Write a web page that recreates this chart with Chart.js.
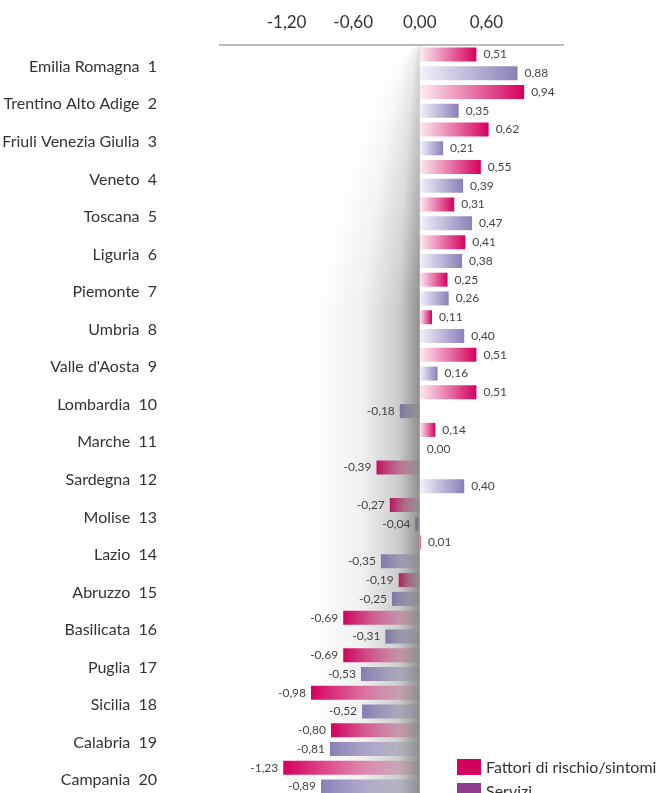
<!DOCTYPE html>
<html>
<head>
<meta charset="utf-8">
<script src="https://cdn.jsdelivr.net/npm/chart.js@4"></script>
<style>
html, body { margin: 0; padding: 0; background: #fff; overflow: hidden; }
#wrap { position: relative; width: 662px; height: 793px; }
.leg { position: absolute; left: 457px; font: 16px Lato, sans-serif; color: #333; display: flex; align-items: center; white-space: nowrap; }
.leg span { display: inline-block; width: 24px; height: 16px; margin-right: 5px; }
</style>
</head>
<body>
<div id="wrap">
  <canvas id="chart" width="662" height="796"></canvas>
  <div class="leg" style="top:757px"><span style="background:#d4005e"></span>Fattori di rischio/sintomi</div>
  <div class="leg" style="top:781px"><span style="background:#8e3d8e"></span>Servizi</div>
</div>
<script>
var regions = ['Emilia Romagna', 'Trentino Alto Adige', 'Friuli Venezia Giulia', 'Veneto', 'Toscana',
  'Liguria', 'Piemonte', 'Umbria', "Valle d'Aosta", 'Lombardia', 'Marche', 'Sardegna', 'Molise',
  'Lazio', 'Abruzzo', 'Basilicata', 'Puglia', 'Sicilia', 'Calabria', 'Campania'];
var fattori = [0.51, 0.94, 0.62, 0.55, 0.31, 0.41, 0.25, 0.11, 0.51, 0.51,
  0.14, -0.39, -0.27, 0.01, -0.19, -0.69, -0.69, -0.98, -0.80, -1.23];
var servizi = [0.88, 0.35, 0.21, 0.39, 0.47, 0.38, 0.26, 0.40, 0.16, -0.18,
  0.00, 0.40, -0.04, -0.35, -0.25, -0.31, -0.53, -0.52, -0.81, -0.89];
var tickValues = [-1.2, -0.6, 0, 0.6];

var labels = regions.map(function (r, i) { return r + '  ' + (i + 1); });

function fmt(v) {
  return v.toFixed(2).replace('.', ',');
}

// gradient per bar: light at zero, full colour at the end of the bar
function barGradient(light, dark) {
  return function (c) {
    var chart = c.chart;
    var x = chart.scales.x;
    if (!x || c.raw === undefined) return dark;
    var x0 = x.getPixelForValue(0);
    var x1 = x.getPixelForValue(c.raw);
    if (!isFinite(x0) || !isFinite(x1) || Math.abs(x1 - x0) < 0.5) return dark;
    var g = chart.ctx.createLinearGradient(x0, 0, x1, 0);
    g.addColorStop(0, light);
    g.addColorStop(1, dark);
    return g;
  };
}

var shadowAndLabels = {
  id: 'shadowAndLabels',
  afterDatasetsDraw: function (chart) {
    var ctx = chart.ctx;
    var area = chart.chartArea;
    var zero = chart.scales.x.getPixelForValue(0);
    ctx.save();
    // soft fold shadow left of the zero line
    for (var y = area.top + 1; y < area.bottom; y += 2) {
      var t = Math.min(1, (y - area.top) / 260);
      var w = 105 * Math.sqrt(t);
      if (w < 1) continue;
      var a = 0.68 * (0.35 + 0.65 * t);
      var g = ctx.createLinearGradient(zero - w, 0, zero, 0);
      g.addColorStop(0, 'rgba(90,90,90,0)');
      g.addColorStop(0.45, 'rgba(90,90,90,' + (a * 0.13) + ')');
      g.addColorStop(0.8, 'rgba(90,90,90,' + (a * 0.45) + ')');
      g.addColorStop(1, 'rgba(90,90,90,' + a + ')');
      ctx.fillStyle = g;
      ctx.fillRect(zero - w, y, w, 2);
    }
    // value labels
    ctx.font = '12px Lato, sans-serif';
    ctx.fillStyle = '#444';
    ctx.textBaseline = 'middle';
    chart.data.datasets.forEach(function (ds, i) {
      chart.getDatasetMeta(i).data.forEach(function (bar, j) {
        var v = ds.data[j];
        if (v < 0) {
          ctx.textAlign = 'right';
          ctx.fillText(fmt(v), bar.x - 5, bar.y);
        } else {
          ctx.textAlign = 'left';
          ctx.fillText(fmt(v), bar.x + 7, bar.y);
        }
      });
    });
    ctx.restore();
  }
};

var ctx = document.getElementById('chart').getContext('2d');
var myChart = new Chart(ctx, {
  type: 'bar',
  data: {
    labels: labels,
    datasets: [{
      label: 'Fattori di rischio/sintomi',
      data: fattori,
      backgroundColor: barGradient('#fcecf2', '#d4005e'),
      borderWidth: 0
    }, {
      label: 'Servizi',
      data: servizi,
      backgroundColor: barGradient('#f3f2fa', '#8b7fba'),
      borderWidth: 0
    }]
  },
  options: {
    responsive: false,
    animation: false,
    indexAxis: 'y',
    layout: { padding: { left: 0, right: 99, top: 0, bottom: 0 } },
    datasets: { bar: { categoryPercentage: 1, barPercentage: 0.745 } },
    plugins: {
      legend: { display: false },
      tooltip: { enabled: false }
    },
    scales: {
      x: {
        position: 'top',
        min: -1.8,
        max: 1.29,
        grid: { display: false, drawTicks: false },
        border: { display: true, color: '#bbb', width: 2 },
        afterBuildTicks: function (s) {
          s.ticks = tickValues.map(function (v) { return { value: v }; });
        },
        afterFit: function (s) { s.height = 45; },
        ticks: {
          font: { family: 'Lato', size: 17 },
          color: '#333',
          padding: 12,
          maxRotation: 0,
          autoSkip: false,
          callback: function (v) { return fmt(v); }
        }
      },
      y: {
        grid: { display: false, drawTicks: false },
        border: { display: false },
        afterFit: function (s) {
          s.width = 220;
          s.paddingTop = 0;
          s.paddingBottom = 0;
        },
        ticks: {
          font: { family: 'Lato', size: 16 },
          color: '#333',
          padding: 63,
          labelOffset: 3,
          autoSkip: false
        }
      }
    }
  },
  plugins: [shadowAndLabels]
});
</script>
</body>
</html>
